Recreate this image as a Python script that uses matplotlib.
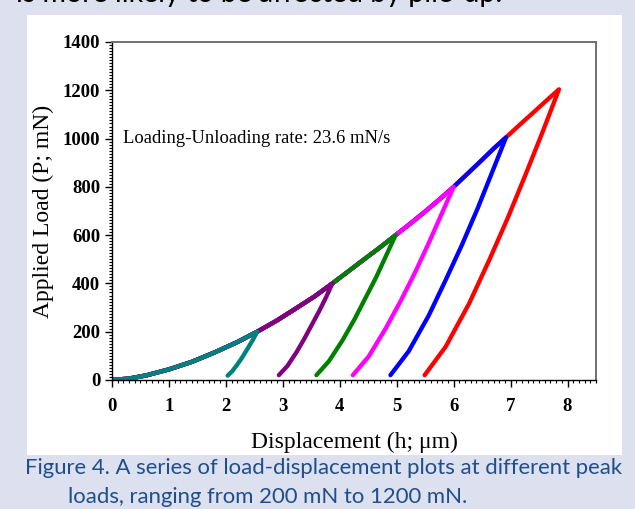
import matplotlib
matplotlib.use("Agg")
import matplotlib.pyplot as plt
from matplotlib.patches import Rectangle
from matplotlib.ticker import MultipleLocator

# loading branch (shared by every test)
load_h = [0.0, 0.3, 0.6, 1.0, 1.4, 1.8, 2.2, 2.55, 2.9, 3.2, 3.55, 3.87, 4.15, 4.4,
          4.7, 4.98, 5.25, 5.5, 5.75, 6.0, 6.25, 6.5, 6.7, 6.92, 7.15, 7.4, 7.6, 7.85]
load_p = [0, 6, 19, 44, 75, 114, 157, 200, 247, 292, 345, 400, 450, 495,
          548, 600, 650, 698, 748, 800, 856, 912, 958, 1005, 1055, 1108, 1151, 1204]

# unloading branches, peak -> end
colors = ["#008080", "#800080", "#008000", "#ff00ff", "#0000ff", "#ff0000"]
unload_h = [
    [2.55, 2.49, 2.42, 2.35, 2.28, 2.20, 2.11, 2.03],
    [3.87, 3.76, 3.64, 3.51, 3.38, 3.24, 3.08, 2.93],
    [4.98, 4.81, 4.64, 4.45, 4.26, 4.05, 3.81, 3.59],
    [6.00, 5.78, 5.56, 5.33, 5.08, 4.81, 4.51, 4.23],
    [6.92, 6.67, 6.42, 6.15, 5.86, 5.56, 5.21, 4.89],
    [7.85, 7.56, 7.26, 6.95, 6.62, 6.27, 5.86, 5.49],
]
unload_p = [
    [200, 173, 145, 118, 91, 64, 36, 18],
    [400, 343, 286, 229, 172, 115, 58, 20],
    [600, 513, 426, 339, 252, 165, 78, 20],
    [800, 683, 566, 449, 332, 215, 98, 20],
    [1005, 857, 710, 562, 414, 266, 119, 20],
    [1204, 1026, 849, 671, 494, 316, 138, 20],
]

fig = plt.figure(figsize=(6.35, 5.09), dpi=100)
fig.patch.set_facecolor("#dde1ef")
fig.patches.append(Rectangle((27 / 635, 1 - 455 / 509), 595 / 635, 440 / 509,
                             transform=fig.transFigure, facecolor="white",
                             edgecolor="none", zorder=-5))

ax = fig.add_axes([112 / 635, 1 - 380 / 509, 484 / 635, 338 / 509])
ax.set_facecolor("white")

# red drawn first, teal last
for i in reversed(range(len(colors))):
    n = load_p.index(unload_p[i][0]) + 1
    h = load_h[:n] + unload_h[i][1:]
    p = load_p[:n] + unload_p[i][1:]
    ax.plot(h, p, color=colors[i], lw=3.1, solid_capstyle="round",
            solid_joinstyle="round")

ax.set_xlim(0, 8.5)
ax.set_ylim(0, 1400)
ax.xaxis.set_major_locator(MultipleLocator(1))
ax.xaxis.set_minor_locator(MultipleLocator(0.1))
ax.yaxis.set_major_locator(MultipleLocator(200))
ax.yaxis.set_minor_locator(MultipleLocator(12.5))
ax.set_xticks(range(0, 9))
ax.tick_params(which="both", direction="out", top=False, right=False, color="black")
ax.tick_params(which="major", length=5, width=1)
ax.tick_params(which="minor", length=2.5, width=0.8)
ax.tick_params(axis="x", pad=8)
for lab in ax.get_xticklabels() + ax.get_yticklabels():
    lab.set_fontfamily("Liberation Serif")
    lab.set_fontweight("bold")
    lab.set_fontsize(13.5)

for s in ["left", "bottom"]:
    ax.spines[s].set_color("black")
    ax.spines[s].set_linewidth(1.0)
for s in ["top", "right"]:
    ax.spines[s].set_color("#707070")
    ax.spines[s].set_linewidth(1.4)

ax.set_xlabel("Displacement (h; \u03bcm)", fontfamily="Liberation Serif",
              fontsize=17, labelpad=12)
ax.set_ylabel("Applied Load (P; mN)", fontfamily="Liberation Serif",
              fontsize=17, labelpad=6)
ax.text(0.19, 1000, "Loading-Unloading rate: 23.6 mN/s", fontfamily="Liberation Serif",
        fontsize=13.4, va="center")

cap_color = "#1f4e8a"
fig.text(16 / 635, 1 - 2 / 509, "is more likely to be affected by pile-up.",
         fontfamily="Lato", fontsize=20.5, color="black", va="baseline")
fig.text(25 / 635, 1 - 474 / 509,
         "Figure 4. A series of load-displacement plots at different peak",
         fontfamily="Lato", fontsize=15.9, color=cap_color, va="baseline")
fig.text(68 / 635, 1 - 503 / 509, "loads, ranging from 200 mN to 1200 mN.",
         fontfamily="Lato", fontsize=15.9, color=cap_color, va="baseline")

fig.savefig("out.png", dpi=100, facecolor=fig.get_facecolor())
